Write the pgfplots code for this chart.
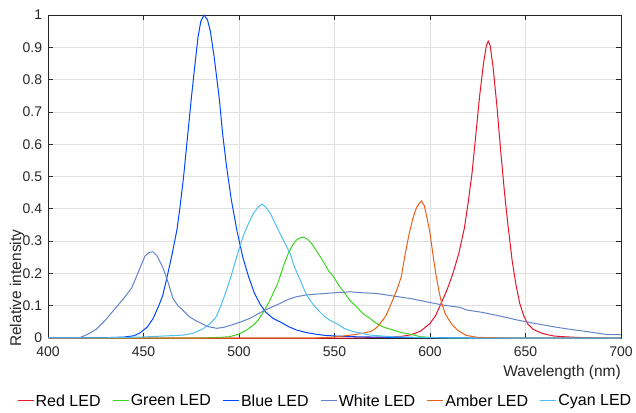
\documentclass[border=0pt]{standalone}
\usepackage{fontspec}
\setmainfont{Liberation Sans}
\usepackage{pgfplots}
\pgfplotsset{compat=1.18}
\definecolor{cRed}{RGB}{232,20,40}
\definecolor{cGreen}{RGB}{60,215,30}
\definecolor{cBlue}{RGB}{0,70,255}
\definecolor{cWhite}{RGB}{100,130,200}
\definecolor{cAmber}{RGB}{235,95,25}
\definecolor{cCyan}{RGB}{80,190,240}
\definecolor{axc}{RGB}{38,38,38}
\definecolor{gridc}{RGB}{225,225,225}
\begin{document}
\begin{tikzpicture}
\useasboundingbox (-48pt,-74pt) rectangle (588pt,338pt);
\begin{axis}[
  at={(0pt,0pt)}, anchor=south west,
  scale only axis, width=573pt, height=323pt,
  xmin=400, xmax=700, ymin=0, ymax=1,
  xtick={400,450,...,700},
  ytick={0,0.1,0.2,0.3,0.4,0.5,0.6,0.7,0.8,0.9,1},
  yticklabels={0,0.1,0.2,0.3,0.4,0.5,0.6,0.7,0.8,0.9,1},
  /pgf/number format/assume math mode=true,
  tick align=inside, major tick length=5pt,
  tick style={color=axc, line width=0.7pt},
  axis line style={color=axc, line width=0.8pt},
  grid=major, major grid style={color=gridc, line width=0.7pt},
  ticklabel style={font=\fontsize{14}{16}\selectfont, text=axc, inner sep=1pt},
  xticklabel style={yshift=-7.5pt},
  yticklabel style={xshift=-4.7pt},
  clip=false,
  xlabel={Wavelength (nm)},
  ylabel={Relative intensity},
  xlabel style={at={(axis description cs:1,-0.0836)}, anchor=north east, inner sep=0pt, font=\fontsize{15.5}{18}\selectfont, text=axc},
  ylabel style={at={(axis description cs:-0.0541,-0.028)}, anchor=west, inner sep=0pt, font=\fontsize{15.5}{18}\selectfont, text=axc},
  legend columns=6,
  legend style={at={(axis description cs:0.4834,-0.195)}, anchor=center, draw=none, fill=none, inner sep=0pt,
    font=\fontsize{16}{18}\selectfont, text=black,
    /tikz/every even column/.append style={column sep=10.2pt},
    nodes={inner sep=1.5pt}},
  legend cell align=left,
  legend image code/.code={\draw[#1] (0pt,0pt) -- (16pt,0pt);},
  every axis plot/.append style={line width=1pt, line join=round},
]
% Red LED
\addplot[color=cRed] coordinates {
(400,0) (560,0) (575,0.002) (585,0.005) (590,0.01) (595,0.021) (600,0.045) (603,0.07) (606,0.11) (609,0.15) (612,0.2) (615,0.26) (618,0.34) (620,0.42) (622,0.51) (624,0.63) (626,0.75) (628,0.85) (629.5,0.905) (630.5,0.92) (631.5,0.905) (633,0.84) (635,0.72) (637,0.58) (639,0.45) (641,0.34) (643,0.24) (645,0.165) (647,0.107) (649,0.07) (651,0.045) (654,0.027) (658,0.016) (661,0.011) (665,0.006) (670,0.004) (680,0.001) (690,0) (700,0)
};
\addlegendentry{Red LED}
% Green LED
\addplot[color=cGreen] coordinates {
(400,0) (480,0) (490,0.002) (495,0.004) (500,0.012) (504,0.025) (507.5,0.04) (510,0.055) (513.5,0.087) (516,0.115) (518,0.14) (520,0.165) (522,0.2) (524,0.235) (526,0.265) (528,0.287) (530,0.303) (532,0.31) (534,0.312) (536,0.305) (538,0.293) (540,0.275) (542.5,0.252) (545,0.228) (547,0.207) (549.5,0.19) (552,0.165) (555.5,0.138) (558,0.117) (561.5,0.097) (565,0.075) (568.5,0.061) (572,0.045) (576,0.033) (581,0.024) (585,0.017) (589.5,0.012) (595,0.004) (600,0.002) (610,0) (700,0)
};
\addlegendentry{Green LED}
% Blue LED
\addplot[color=cBlue] coordinates {
(400,0) (430,0.001) (440,0.003) (445,0.007) (448,0.015) (452,0.034) (455,0.06) (458,0.1) (460,0.13) (462,0.18) (465,0.26) (467.5,0.335) (469,0.4) (471,0.5) (473,0.62) (475,0.74) (477,0.85) (478.5,0.93) (480,0.98) (481.7,1.0) (483.5,0.985) (485,0.95) (487,0.87) (489.7,0.74) (491.4,0.634) (493.5,0.53) (496,0.427) (499,0.33) (502,0.25) (505,0.19) (508,0.14) (511,0.105) (514,0.08) (518,0.06) (521.5,0.05) (526,0.035) (530,0.025) (535,0.017) (540,0.012) (545,0.008) (551,0.006) (560,0.004) (580,0.002) (600,0.001) (620,0) (700,0)
};
\addlegendentry{Blue LED}
% White LED
\addplot[color=cWhite] coordinates {
(400,0) (415,0) (417,0.002) (421,0.012) (425.5,0.028) (430,0.055) (436,0.097) (440,0.125) (443.8,0.155) (447,0.2) (450.8,0.254) (453,0.265) (455,0.267) (457,0.255) (460,0.22) (463,0.17) (465.5,0.122) (468,0.1) (470.8,0.085) (474,0.066) (477,0.055) (479.6,0.047) (484,0.035) (488.3,0.03) (492,0.033) (497,0.042) (501,0.05) (505.8,0.061) (510,0.075) (515,0.09) (521.5,0.107) (526,0.12) (530.2,0.128) (535,0.133) (540.7,0.136) (550,0.14) (558,0.143) (565,0.14) (572,0.138) (580.8,0.13) (590,0.122) (598.3,0.112) (606.8,0.102) (615.7,0.095) (619,0.087) (627.7,0.079) (636.6,0.068) (647,0.054) (655,0.045) (664.5,0.035) (672,0.028) (682,0.02) (690,0.013) (692.5,0.011) (700,0.01)
};
\addlegendentry{White LED}
% Amber LED
\addplot[color=cAmber] coordinates {
(400,0) (540,0) (550,0.003) (560,0.01) (565,0.015) (569,0.02) (572,0.032) (574,0.045) (577,0.07) (579,0.097) (581,0.125) (583,0.155) (585,0.19) (587,0.26) (589,0.32) (591,0.37) (593,0.405) (595.5,0.425) (597,0.41) (598.5,0.37) (600,0.325) (601.5,0.26) (603,0.2) (604.5,0.15) (606,0.11) (608,0.075) (610,0.055) (612,0.038) (615,0.022) (619,0.008) (625,0.002) (640,0) (700,0)
};
\addlegendentry{Amber LED}
% Cyan LED
\addplot[color=cCyan] coordinates {
(400,0) (440,0.001) (453,0.004) (470.8,0.009) (476,0.015) (481,0.028) (485,0.045) (488,0.065) (490.5,0.1) (493,0.14) (495.5,0.185) (497.5,0.225) (500,0.275) (502.5,0.32) (505,0.355) (507.5,0.385) (510,0.405) (512,0.415) (514,0.405) (516.5,0.385) (519.7,0.345) (523,0.305) (526.7,0.263) (529,0.22) (532,0.18) (534.5,0.145) (537,0.118) (540,0.095) (544,0.071) (547,0.057) (551,0.045) (555,0.03) (559.7,0.02) (568.6,0.009) (580,0.004) (600,0.001) (620,0) (700,0)
};
\addlegendentry{Cyan LED}
\end{axis}
\end{tikzpicture}
\end{document}
